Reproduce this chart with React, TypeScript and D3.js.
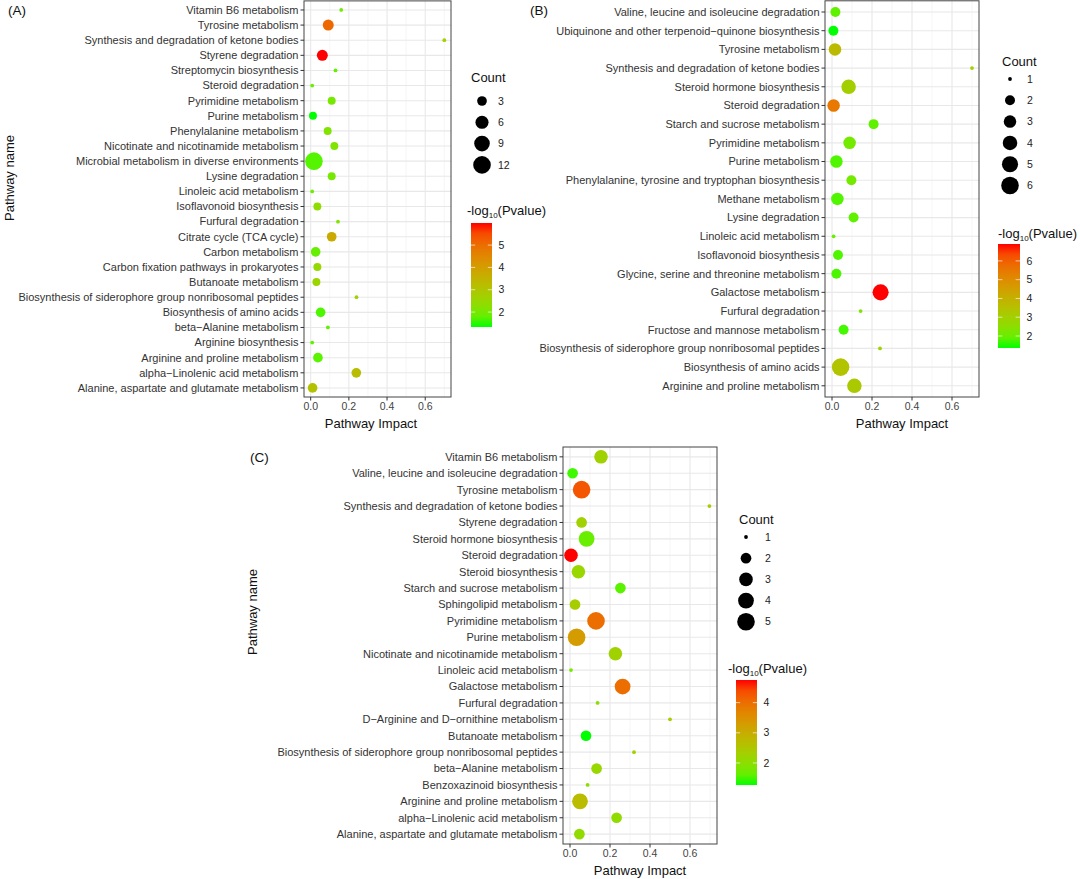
import React, { useEffect, useRef } from 'react'
import * as d3 from 'd3'

// ---------- panel A ----------
const pathwaysA = [
  'Vitamin B6 metabolism',
  'Tyrosine metabolism',
  'Synthesis and degradation of ketone bodies',
  'Styrene degradation',
  'Streptomycin biosynthesis',
  'Steroid degradation',
  'Pyrimidine metabolism',
  'Purine metabolism',
  'Phenylalanine metabolism',
  'Nicotinate and nicotinamide metabolism',
  'Microbial metabolism in diverse environments',
  'Lysine degradation',
  'Linoleic acid metabolism',
  'Isoflavonoid biosynthesis',
  'Furfural degradation',
  'Citrate cycle (TCA cycle)',
  'Carbon metabolism',
  'Carbon fixation pathways in prokaryotes',
  'Butanoate metabolism',
  'Biosynthesis of siderophore group nonribosomal peptides',
  'Biosynthesis of amino acids',
  'beta\u2212Alanine metabolism',
  'Arginine biosynthesis',
  'Arginine and proline metabolism',
  'alpha\u2212Linolenic acid metabolism',
  'Alanine, aspartate and glutamate metabolism'
]
const impactA = [0.16, 0.092, 0.7, 0.061, 0.13, 0.008, 0.11, 0.012, 0.089, 0.124, 0.017, 0.11, 0.008, 0.035, 0.143, 0.11, 0.026, 0.035, 0.03, 0.24, 0.052, 0.09, 0.008, 0.038, 0.239, 0.01]
const countA = [1, 4, 1, 4, 1, 1, 2, 2, 2, 2, 12, 2, 1, 2, 1, 3, 3, 2, 2, 1, 3, 1, 1, 3, 3, 3]
const logPA = [1.95, 5.1, 2.7, 5.99, 1.8, 1.85, 2.0, 1.33, 2.1, 2.1, 1.65, 2.0, 1.9, 2.35, 2.1, 3.7, 1.8, 2.45, 2.55, 2.6, 1.6, 1.75, 1.75, 1.7, 3.2, 3.1]
const countBreaksA = [3, 6, 9, 12]
const logPBreaksA = [2, 3, 4, 5]

// ---------- panel B ----------
const pathwaysB = [
  'Valine, leucine and isoleucine degradation',
  'Ubiquinone and other terpenoid\u2212quinone biosynthesis',
  'Tyrosine metabolism',
  'Synthesis and degradation of ketone bodies',
  'Steroid hormone biosynthesis',
  'Steroid degradation',
  'Starch and sucrose metabolism',
  'Pyrimidine metabolism',
  'Purine metabolism',
  'Phenylalanine, tyrosine and tryptophan biosynthesis',
  'Methane metabolism',
  'Lysine degradation',
  'Linoleic acid metabolism',
  'Isoflavonoid biosynthesis',
  'Glycine, serine and threonine metabolism',
  'Galactose metabolism',
  'Furfural degradation',
  'Fructose and mannose metabolism',
  'Biosynthesis of siderophore group nonribosomal peptides',
  'Biosynthesis of amino acids',
  'Arginine and proline metabolism'
]
const impactB = [0.017, 0.007, 0.015, 0.7, 0.083, 0.008, 0.208, 0.088, 0.022, 0.097, 0.027, 0.108, 0.008, 0.03, 0.022, 0.243, 0.143, 0.058, 0.24, 0.043, 0.112]
const countB = [2, 2, 3, 1, 4, 3, 2, 3, 3, 2, 3, 2, 1, 2, 2, 5, 1, 2, 1, 6, 4]
const logPB = [1.85, 1.36, 3.7, 2.9, 3.0, 5.5, 1.85, 2.1, 1.7, 2.1, 1.7, 1.85, 1.95, 1.7, 1.65, 6.9, 2.3, 1.6, 2.8, 3.4, 3.2]
const countBreaksB = [1, 2, 3, 4, 5, 6]
const logPBreaksB = [2, 3, 4, 5, 6]

// ---------- panel C ----------
const pathwaysC = [
  'Vitamin B6 metabolism',
  'Valine, leucine and isoleucine degradation',
  'Tyrosine metabolism',
  'Synthesis and degradation of ketone bodies',
  'Styrene degradation',
  'Steroid hormone biosynthesis',
  'Steroid degradation',
  'Steroid biosynthesis',
  'Starch and sucrose metabolism',
  'Sphingolipid metabolism',
  'Pyrimidine metabolism',
  'Purine metabolism',
  'Nicotinate and nicotinamide metabolism',
  'Linoleic acid metabolism',
  'Galactose metabolism',
  'Furfural degradation',
  'D\u2212Arginine and D\u2212ornithine metabolism',
  'Butanoate metabolism',
  'Biosynthesis of siderophore group nonribosomal peptides',
  'beta\u2212Alanine metabolism',
  'Benzoxazinoid biosynthesis',
  'Arginine and proline metabolism',
  'alpha\u2212Linolenic acid metabolism',
  'Alanine, aspartate and glutamate metabolism'
]
const impactC = [0.155, 0.013, 0.058, 0.697, 0.058, 0.083, 0.005, 0.042, 0.252, 0.025, 0.13, 0.033, 0.227, 0.005, 0.263, 0.138, 0.5, 0.08, 0.32, 0.133, 0.088, 0.05, 0.233, 0.047]
const countC = [3, 2, 5, 1, 2, 4, 3, 3, 2, 2, 5, 5, 3, 1, 4, 1, 1, 2, 1, 2, 1, 4, 2, 2]
const logPC = [2.25, 1.4, 4.3, 2.35, 2.25, 1.65, 4.75, 2.15, 1.55, 2.35, 4.0, 3.3, 2.25, 1.75, 4.0, 1.95, 2.35, 1.27, 2.25, 2.15, 1.95, 2.7, 2.05, 2.05]
const countBreaksC = [1, 2, 3, 4, 5]
const logPBreaksC = [2, 3, 4]

const impactTicks = [0, 0.2, 0.4, 0.6]
const impactMinor = [0.1, 0.3, 0.5, 0.7]

const FONT = '"Liberation Sans", Arial, Helvetica, sans-serif'
const D_MIN = 3.8
const D_MAX = 17.6

interface PanelSpec {
  tag: string
  names: string[]
  impact: number[]
  count: number[]
  logP: number[]
  countBreaks: number[]
  logPBreaks: number[]
  box: { left: number; right: number; top: number; bottom: number }
  tagAt: [number, number]
  yTitleAt?: [number, number]
  xTitleX: number
  size: { titleX: number; titleY: number; keyX: number; firstY: number; step: number; labelX: number }
  bar: { titleX: number; titleY: number; x: number; y: number; w: number; h: number }
}

const panels: PanelSpec[] = [
  {
    tag: '(A)', names: pathwaysA, impact: impactA, count: countA, logP: logPA,
    countBreaks: countBreaksA, logPBreaks: logPBreaksA,
    box: { left: 304, right: 451, top: 0.9, bottom: 397 },
    tagAt: [8, 10], yTitleAt: [9, 178], xTitleX: 371,
    size: { titleX: 471, titleY: 77, keyX: 482, firstY: 101, step: 21.3, labelX: 498 },
    bar: { titleX: 467, titleY: 210, x: 471, y: 223, w: 21, h: 104 }
  },
  {
    tag: '(B)', names: pathwaysB, impact: impactB, count: countB, logP: logPB,
    countBreaks: countBreaksB, logPBreaks: logPBreaksB,
    box: { left: 825, right: 979, top: 0.8, bottom: 397 },
    tagAt: [530, 10], xTitleX: 902,
    size: { titleX: 1002, titleY: 61, keyX: 1010, firstY: 79, step: 21.3, labelX: 1027 },
    bar: { titleX: 998, titleY: 233, x: 998, y: 244, w: 22, h: 104 }
  },
  {
    tag: '(C)', names: pathwaysC, impact: impactC, count: countC, logP: logPC,
    countBreaks: countBreaksC, logPBreaks: logPBreaksC,
    box: { left: 563, right: 717, top: 447, bottom: 844 },
    tagAt: [250, 457], yTitleAt: [252, 612], xTitleX: 640,
    size: { titleX: 739, titleY: 519, keyX: 746, firstY: 537, step: 21.2, labelX: 765 },
    bar: { titleX: 728, titleY: 668, x: 736, y: 680, w: 21, h: 105 }
  }
]

const drawPanel = (
  svg: d3.Selection<SVGSVGElement, unknown, null, undefined>,
  defs: d3.Selection<SVGDefsElement, unknown, null, undefined>,
  p: PanelSpec,
  idx: number
) => {
  const { left, right, top, bottom } = p.box
  const x = d3.scaleLinear().domain([-0.035, 0.735]).range([left, right])
  const y = d3.scalePoint<string>().domain(p.names).range([top, bottom]).padding(0.6)

  const cExt = d3.extent(p.count) as [number, number]
  const rescale = d3.scaleLinear().domain(cExt).range([0, 1]).clamp(true)
  const dia = d3.scaleLinear().domain([0, 1]).range([D_MIN, D_MAX])
  const radius = (c: number) => dia(Math.sqrt(rescale(c))) / 2

  const pExt = d3.extent(p.logP) as [number, number]
  const color = d3.scaleLinear<string>()
    .domain(pExt)
    .range(['#00ff00', '#ff0000'])
    .interpolate(d3.interpolateLab)

  const g = svg.append('g')

  // panel background + grid
  g.append('rect')
    .attr('x', left).attr('y', top)
    .attr('width', right - left).attr('height', bottom - top)
    .attr('fill', '#fff')

  g.append('g').selectAll('line').data(impactMinor).enter().append('line')
    .attr('x1', d => x(d)).attr('x2', d => x(d))
    .attr('y1', top).attr('y2', bottom)
    .attr('stroke', '#f0f0f0').attr('stroke-width', 0.6)

  g.append('g').selectAll('line').data(impactTicks).enter().append('line')
    .attr('x1', d => x(d)).attr('x2', d => x(d))
    .attr('y1', top).attr('y2', bottom)
    .attr('stroke', '#e8e8e8').attr('stroke-width', 1.1)

  g.append('g').selectAll('line').data(p.names).enter().append('line')
    .attr('x1', left).attr('x2', right)
    .attr('y1', d => y(d)!).attr('y2', d => y(d)!)
    .attr('stroke', '#e8e8e8').attr('stroke-width', 1.1)

  // points
  g.append('g').selectAll('circle').data(p.names).enter().append('circle')
    .attr('cx', (d, i) => x(p.impact[i]))
    .attr('cy', d => y(d)!)
    .attr('r', (d, i) => radius(p.count[i]))
    .attr('fill', (d, i) => color(p.logP[i]))

  // border
  g.append('rect')
    .attr('x', left).attr('y', top)
    .attr('width', right - left).attr('height', bottom - top)
    .attr('fill', 'none').attr('stroke', '#444').attr('stroke-width', 1)

  // y axis
  g.append('g').selectAll('line').data(p.names).enter().append('line')
    .attr('x1', left - 3.5).attr('x2', left)
    .attr('y1', d => y(d)!).attr('y2', d => y(d)!)
    .attr('stroke', '#333').attr('stroke-width', 1)

  g.append('g').selectAll('text').data(p.names).enter().append('text')
    .text(d => d)
    .attr('x', left - 5.5)
    .attr('y', d => y(d)!)
    .attr('dy', '0.35em')
    .attr('text-anchor', 'end')
    .attr('font-size', '11px')
    .attr('fill', '#333')

  // x axis
  g.append('g').selectAll('line').data(impactTicks).enter().append('line')
    .attr('x1', d => x(d)).attr('x2', d => x(d))
    .attr('y1', bottom).attr('y2', bottom + 3.5)
    .attr('stroke', '#333').attr('stroke-width', 1)

  g.append('g').selectAll('text').data(impactTicks).enter().append('text')
    .text(d => d3.format('.1f')(d))
    .attr('x', d => x(d))
    .attr('y', bottom + 9.8)
    .attr('dy', '0.35em')
    .attr('text-anchor', 'middle')
    .attr('font-size', '10.5px')
    .attr('fill', '#444')

  g.append('text')
    .text('Pathway Impact')
    .attr('x', p.xTitleX)
    .attr('y', bottom + 26)
    .attr('dy', '0.35em')
    .attr('text-anchor', 'middle')
    .attr('font-size', '13px')
    .attr('fill', '#111')

  if (p.yTitleAt) {
    g.append('text')
      .text('Pathway name')
      .attr('transform', `translate(${p.yTitleAt[0]},${p.yTitleAt[1]}) rotate(-90)`)
      .attr('dy', '0.35em')
      .attr('text-anchor', 'middle')
      .attr('font-size', '13px')
      .attr('fill', '#111')
  }

  g.append('text')
    .text(p.tag)
    .attr('x', p.tagAt[0]).attr('y', p.tagAt[1])
    .attr('dy', '0.35em')
    .attr('font-size', '13.5px')
    .attr('fill', '#111')

  // size legend
  const s = p.size
  g.append('text')
    .text('Count')
    .attr('x', s.titleX).attr('y', s.titleY)
    .attr('dy', '0.35em')
    .attr('font-size', '13px')
    .attr('fill', '#111')

  const keys = g.append('g').selectAll('g').data(p.countBreaks).enter().append('g')
    .attr('transform', (d, i) => `translate(0, ${s.firstY + i * s.step})`)
  keys.append('circle')
    .attr('cx', s.keyX).attr('cy', 0)
    .attr('r', d => radius(d))
    .attr('fill', '#000')
  keys.append('text')
    .text(d => d)
    .attr('x', s.labelX).attr('y', 0)
    .attr('dy', '0.35em')
    .attr('font-size', '10.5px')
    .attr('fill', '#222')

  // colour bar
  const b = p.bar
  const title = g.append('text')
    .attr('x', b.titleX).attr('y', b.titleY)
    .attr('dy', '0.35em')
    .attr('font-size', '13px')
    .attr('fill', '#111')
  title.append('tspan').text('-log')
  title.append('tspan').text('10').attr('font-size', '8px').attr('dy', '3')
  title.append('tspan').text('(Pvalue)').attr('dy', '-3')

  const gradId = `bar-grad-${idx}`
  const grad = defs.append('linearGradient')
    .attr('id', gradId)
    .attr('x1', 0).attr('y1', 1).attr('x2', 0).attr('y2', 0)
  d3.range(0, 1.0001, 0.1).forEach(t => {
    grad.append('stop')
      .attr('offset', `${t * 100}%`)
      .attr('stop-color', color(pExt[0] + t * (pExt[1] - pExt[0])))
  })

  const yBar = d3.scaleLinear().domain(pExt).range([b.y + b.h, b.y])
  g.append('rect')
    .attr('x', b.x).attr('y', b.y)
    .attr('width', b.w).attr('height', b.h)
    .attr('fill', `url(#${gradId})`)

  const tl = b.w / 5
  g.append('g').selectAll('path').data(p.logPBreaks).enter().append('path')
    .attr('d', d => `M${b.x},${yBar(d)}h${tl}M${b.x + b.w - tl},${yBar(d)}h${tl}`)
    .attr('stroke', '#fff').attr('stroke-width', 0.8).attr('opacity', 0.8)

  g.append('g').selectAll('text').data(p.logPBreaks).enter().append('text')
    .text(d => d)
    .attr('x', b.x + b.w + 6.5)
    .attr('y', d => yBar(d))
    .attr('dy', '0.35em')
    .attr('font-size', '10.5px')
    .attr('fill', '#222')
}

const App: React.FC = () => {
  const svgRef = useRef<SVGSVGElement>(null)

  useEffect(() => {
    if (!svgRef.current) return
    const svg = d3.select(svgRef.current)
    svg.selectAll('*').remove()
    svg.attr('font-family', FONT)
    svg.append('rect').attr('width', 1080).attr('height', 879).attr('fill', '#fff')
    const defs = svg.append('defs')
    panels.forEach((p, i) => drawPanel(svg, defs, p, i))
  }, [])

  return (
    <svg
      ref={svgRef}
      width={1080}
      height={879}
      style={{ position: 'absolute', left: 0, top: 0, display: 'block' }}
    />
  )
}

export default App
